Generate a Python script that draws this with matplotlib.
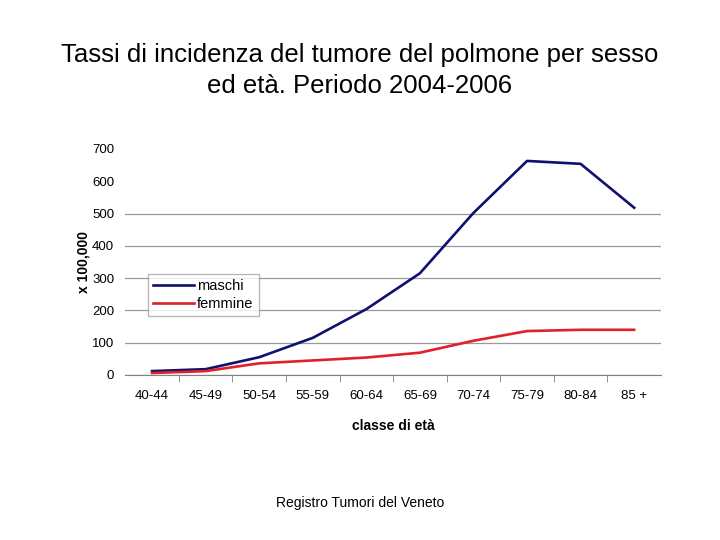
import numpy as np
import matplotlib
matplotlib.use("Agg")
import matplotlib.pyplot as plt

plt.rcParams['font.family'] = ['Liberation Sans', 'DejaVu Sans']

classi = ["40-44", "45-49", "50-54", "55-59", "60-64", "65-69",
          "70-74", "75-79", "80-84", "85 +"]
maschi = [12, 18, 55, 115, 204, 315, 502, 663, 654, 518]
femmine = [6, 12, 36, 45, 54, 69, 106, 136, 140, 140]
y_ticks = [0, 100, 200, 300, 400, 500, 600, 700]

fig = plt.figure(figsize=(7.2, 5.4), dpi=100)
ax = fig.add_axes([0.174, 0.3056, 0.744, 0.4185])

x = np.arange(len(classi))
ax.plot(x, maschi, color="#10106e", lw=1.9, label="maschi")
ax.plot(x, femmine, color="#e0202a", lw=1.9, label="femmine")

ax.set_xlim(-0.5, len(classi) - 0.5)
ax.set_ylim(0, 700)
ax.set_yticks(y_ticks)
ax.set_xticks(x)
ax.set_xticklabels(classi)
ax.set_xticks(np.arange(0.5, len(classi) - 0.5), minor=True)
ax.tick_params(axis="x", which="major", length=0, pad=11, labelsize=9.5)
ax.tick_params(axis="x", which="minor", length=5, color="#808080")
ax.tick_params(axis="y", length=0, pad=8, labelsize=9.5)

ax.yaxis.grid(True, color="#999999", lw=0.9)
ax.set_axisbelow(True)
# in the original only the lines up to 500 are drawn
for g, v in zip(ax.yaxis.get_gridlines(), y_ticks):
    if v > 500:
        g.set_visible(False)

for s in ["top", "right", "left"]:
    ax.spines[s].set_visible(False)
ax.spines["bottom"].set_color("#808080")

ax.set_xlabel("classe di età", fontweight="bold", fontsize=10, labelpad=12)
ax.set_ylabel("x 100,000", fontweight="bold", fontsize=10, labelpad=1)

leg = ax.legend(loc="upper left", bbox_to_anchor=(0.043, 0.447), fontsize=10.5,
                frameon=True, fancybox=False, handlelength=2.8, handletextpad=0.2,
                borderpad=0.35, labelspacing=0.25, borderaxespad=0)
leg.get_frame().set_edgecolor("#a0a0a0")
leg.get_frame().set_linewidth(0.9)

fig.text(0.5, 0.869, "Tassi di incidenza del tumore del polmone per sesso\ned età. Periodo 2004-2006",
         ha="center", va="center", fontsize=18.5, linespacing=1.38)
fig.text(0.5, 0.068, "Registro Tumori del Veneto", ha="center", va="center", fontsize=10)

fig.savefig("out.png", dpi=100)
